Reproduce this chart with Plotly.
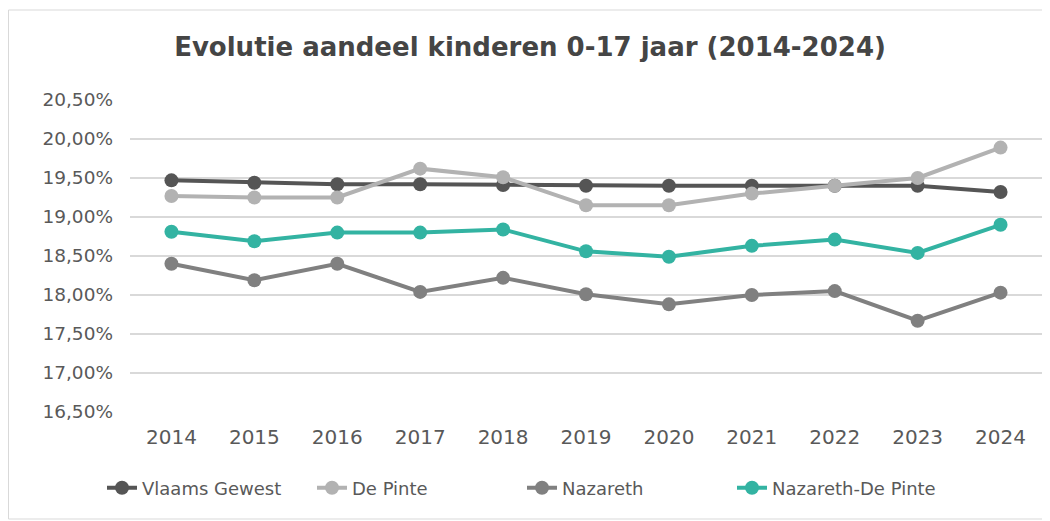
import plotly.graph_objects as go

years = [2014, 2015, 2016, 2017, 2018, 2019, 2020, 2021, 2022, 2023, 2024]
vlaams_gewest = [19.47, 19.44, 19.42, 19.42, 19.41, 19.40, 19.40, 19.40, 19.40, 19.40, 19.32]
de_pinte = [19.27, 19.25, 19.25, 19.62, 19.51, 19.15, 19.15, 19.30, 19.40, 19.50, 19.89]
nazareth = [18.40, 18.19, 18.40, 18.04, 18.22, 18.01, 17.88, 18.00, 18.05, 17.67, 18.03]
nazareth_de_pinte = [18.81, 18.69, 18.80, 18.80, 18.84, 18.56, 18.49, 18.63, 18.71, 18.54, 18.90]

series = [
    ("Vlaams Gewest", vlaams_gewest, "#555555"),
    ("De Pinte", de_pinte, "#b2b2b2"),
    ("Nazareth", nazareth, "#808080"),
    ("Nazareth-De Pinte", nazareth_de_pinte, "#33b3a2"),
]

fig = go.Figure()
for name, vals, col in series:
    fig.add_trace(go.Scatter(
        x=list(range(len(years))), y=vals, name=name, mode="lines+markers",
        line=dict(color=col, width=4), marker=dict(color=col, size=14),
    ))

# page has an 8px body margin; figure coordinates = page coordinates - 8
W, H = 1042, 513
L, R, T, B = 122, 8, 92, 109
pw, ph = W - L - R, H - T - B

fig.update_layout(
    width=W, height=H,
    margin=dict(l=L, r=R, t=T, b=B, autoexpand=False),
    paper_bgcolor="white", plot_bgcolor="white",
    separators=",.",
    font=dict(family="DejaVu Sans", color="#595959", size=18),
    title=dict(text="<b>Evolutie aandeel kinderen 0-17 jaar (2014-2024)</b>",
               x=522 / W, xanchor="center", y=1 - 39 / H, yanchor="middle",
               font=dict(family="DejaVu Sans", size=26, color="#454545")),
    xaxis=dict(range=[-0.5, len(years) - 0.5], tickmode="array",
               tickvals=list(range(len(years))), ticktext=[str(y) for y in years],
               showgrid=False, zeroline=False, showline=False, ticks="",
               ticklabelstandoff=11,
               tickfont=dict(family="DejaVu Sans", size=20, color="#595959")),
    yaxis=dict(range=[16.5, 20.5], dtick=0.5, tick0=16.5, tickformat=".2f",
               ticksuffix="%", showgrid=True, gridcolor="#d9d9d9", gridwidth=1.5,
               zeroline=False, showline=False, ticks="", ticklabelstandoff=16,
               tickfont=dict(family="DejaVu Sans", size=18.5, color="#595959")),
    legend=dict(orientation="h", x=(94 - L) / pw, xanchor="left",
                y=(404 - 480) / ph, yanchor="middle",
                font=dict(family="DejaVu Sans", size=18, color="#595959"),
                entrywidth=165, entrywidthmode="pixels",
                traceorder="normal"),
    showlegend=True,
)

fig.add_shape(type="rect", xref="paper", yref="paper",
              x0=(0.5 - L) / pw, x1=(1039 - L) / pw,
              y0=(404 - 511) / ph, y1=(404 - 2) / ph,
              line=dict(color="#d9d9d9", width=1), layer="below")

fig.write_html("out.html")
